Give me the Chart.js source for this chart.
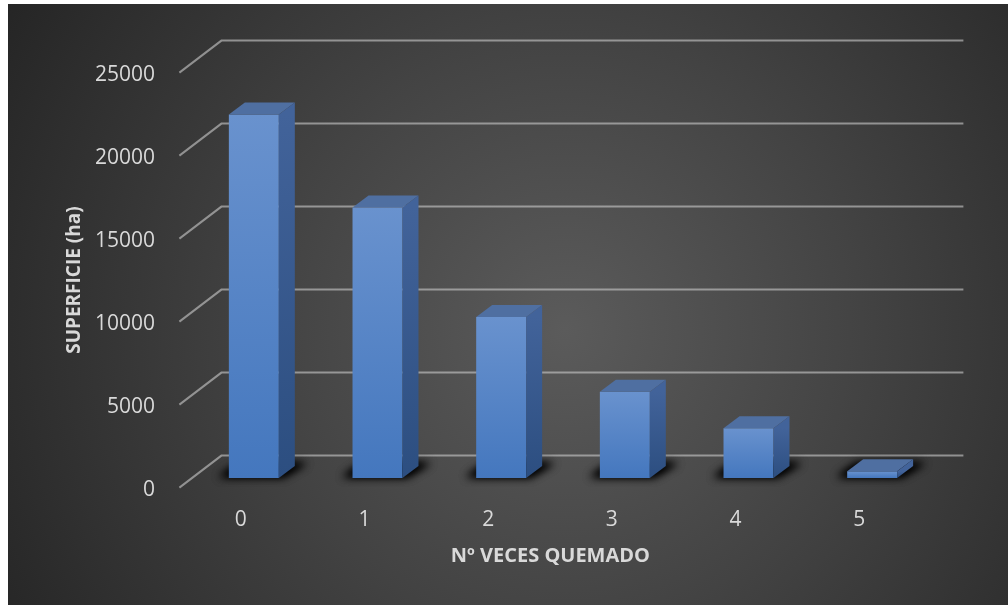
<!DOCTYPE html>
<html>
<head>
<meta charset="utf-8">
<script src="https://cdn.jsdelivr.net/npm/chart.js@4"></script>
<style>
  html, body { margin: 0; padding: 0; background: #ffffff; }
  #wrap { position: relative; width: 1008px; height: 605px; }
</style>
</head>
<body>
<div id="wrap"><canvas id="burnChart"></canvas></div>
<script>
// Superficie quemada por nº de veces

const categories = ["0", "1", "2", "3", "4", "5"];
const superficie = [21900, 16300, 9700, 5200, 3000, 400];
const yTicks = [0, 5000, 10000, 15000, 20000, 25000];

const textColor = "#d9d9d9";
const gridColor = "rgba(200, 200, 200, 0.62)";

// floor depth of the 3D box; bars stand 30% of the way in from the front edge
const DEPTH = { dx: 42, dy: -32, front: 0.3 };
const BAR_DEPTH = { dx: 16, dy: -12 };

const threeD = {
    id: "threeD",

    beforeDraw(chart) {
        const { ctx, width, height } = chart;
        ctx.save();
        ctx.fillStyle = "#ffffff";
        ctx.fillRect(0, 0, width, height);
        const g = ctx.createRadialGradient(565, 330, 0, 565, 330, 660);
        g.addColorStop(0, "#5b5b5b");
        g.addColorStop(0.45, "#434343");
        g.addColorStop(1, "#242424");
        ctx.fillStyle = g;
        ctx.fillRect(8, 4, width - 8, height - 4);
        ctx.restore();
    },

    beforeDatasetsDraw(chart) {
        const { ctx, chartArea: a, scales: { y } } = chart;
        const bx = DEPTH.dx * (1 - DEPTH.front), by = DEPTH.dy * (1 - DEPTH.front);
        const fx = -DEPTH.dx * DEPTH.front, fy = -DEPTH.dy * DEPTH.front;

        ctx.save();
        ctx.strokeStyle = gridColor;
        ctx.lineWidth = 2;
        y.ticks.forEach(t => {
            const py = y.getPixelForValue(t.value);
            ctx.beginPath();
            ctx.moveTo(a.left + fx, py + fy);
            ctx.lineTo(a.left + bx, py + by);
            ctx.lineTo(a.right + bx, py + by);
            ctx.stroke();
        });

        // soft shadows on the floor (shape drawn off-canvas, only its blur lands here)
        const off = 3000;
        chart.getDatasetMeta(0).data.forEach(bar => {
            const l = bar.x - bar.width / 2 - off, r = bar.x + bar.width / 2 - off, b = bar.base;
            ctx.save();
            ctx.shadowColor = "rgba(0, 0, 0, 0.95)";
            ctx.shadowBlur = 9;
            ctx.shadowOffsetX = off;
            ctx.fillStyle = "#000";
            for (let k = 0; k < 2; k++) {
                ctx.beginPath();
                ctx.moveTo(l - 10, b - 1);
                ctx.lineTo(r + 4, b - 1);
                ctx.lineTo(r + BAR_DEPTH.dx + 12, b + BAR_DEPTH.dy - 3);
                ctx.lineTo(l + BAR_DEPTH.dx - 6, b + BAR_DEPTH.dy - 3);
                ctx.closePath();
                ctx.fill();
            }
            ctx.restore();
        });
        ctx.restore();
    },

    afterDatasetsDraw(chart) {
        const { ctx } = chart;
        const dx = BAR_DEPTH.dx, dy = BAR_DEPTH.dy;
        ctx.save();
        chart.getDatasetMeta(0).data.forEach(bar => {
            const l = bar.x - bar.width / 2, r = bar.x + bar.width / 2;
            const t = bar.y, b = bar.base;

            // top face
            ctx.fillStyle = "#4f6fa1";
            ctx.beginPath();
            ctx.moveTo(l, t);
            ctx.lineTo(r, t);
            ctx.lineTo(r + dx, t + dy);
            ctx.lineTo(l + dx, t + dy);
            ctx.closePath();
            ctx.fill();

            // side face
            const g = ctx.createLinearGradient(0, t, 0, b);
            g.addColorStop(0, "#42639a");
            g.addColorStop(1, "#2c4e80");
            ctx.fillStyle = g;
            ctx.beginPath();
            ctx.moveTo(r, t);
            ctx.lineTo(r + dx, t + dy);
            ctx.lineTo(r + dx, b + dy);
            ctx.lineTo(r, b);
            ctx.closePath();
            ctx.fill();
        });
        ctx.restore();
    },

    afterDraw(chart) {
        const { ctx, chartArea: a } = chart;
        const fx = -DEPTH.dx * DEPTH.front, fy = -DEPTH.dy * DEPTH.front;
        ctx.save();
        ctx.fillStyle = textColor;
        ctx.font = "bold 20px 'Open Sans'";
        ctx.textAlign = "center";
        ctx.textBaseline = "middle";
        ctx.fillText("Nº VECES QUEMADO", (a.left + a.right) / 2 + fx, a.bottom + 78);
        ctx.font = "bold 19px 'Open Sans'";
        ctx.translate(a.left - 117, (a.top + a.bottom) / 2 + fy);
        ctx.rotate(-Math.PI / 2);
        ctx.fillText("SUPERFICIE (ha)", 0, 0);
        ctx.restore();
    }
};

const burnChart = new Chart(document.getElementById("burnChart"), {
    type: "bar",

    data: {
        labels: categories,
        datasets: [{
            label: "Superficie",
            data: superficie,
            backgroundColor(c) {
                const chart = c.chart;
                if (!chart.chartArea || c.raw === undefined) return "#5b87c7";
                const y = chart.scales.y;
                const g = chart.ctx.createLinearGradient(0, y.getPixelForValue(c.raw), 0, y.getPixelForValue(0));
                g.addColorStop(0, "#6992ce");
                g.addColorStop(1, "#4477be");
                return g;
            },
            borderWidth: 0,
            barPercentage: 0.404,
            categoryPercentage: 1
        }]
    },

    options: {
        responsive: true,
        maintainAspectRatio: false,
        animation: false,
        layout: {
            padding: { left: 50, right: 74, top: 63, bottom: 30 }
        },
        plugins: {
            legend: { display: false },
            tooltip: { enabled: false }
        },
        scales: {
            x: {
                grid: { display: false, drawTicks: false },
                border: { display: false },
                ticks: {
                    color: textColor,
                    font: { family: "Open Sans", size: 21 },
                    padding: 29,
                    labelOffset: -13,
                    maxRotation: 0
                },
                afterFit(scale) { scale.height = 97; }
            },
            y: {
                min: 0,
                max: 25000,
                grid: { display: false, drawTicks: false },
                border: { display: false },
                afterBuildTicks(scale) {
                    scale.ticks = yTicks.map(v => ({ value: v }));
                },
                ticks: {
                    color: textColor,
                    font: { family: "Open Sans", size: 21 },
                    padding: 37,
                    labelOffset: 12,
                    callback: v => String(v)
                },
                afterFit(scale) { scale.width = 142; }
            }
        }
    },

    plugins: [threeD]
});
</script>
</body>
</html>
